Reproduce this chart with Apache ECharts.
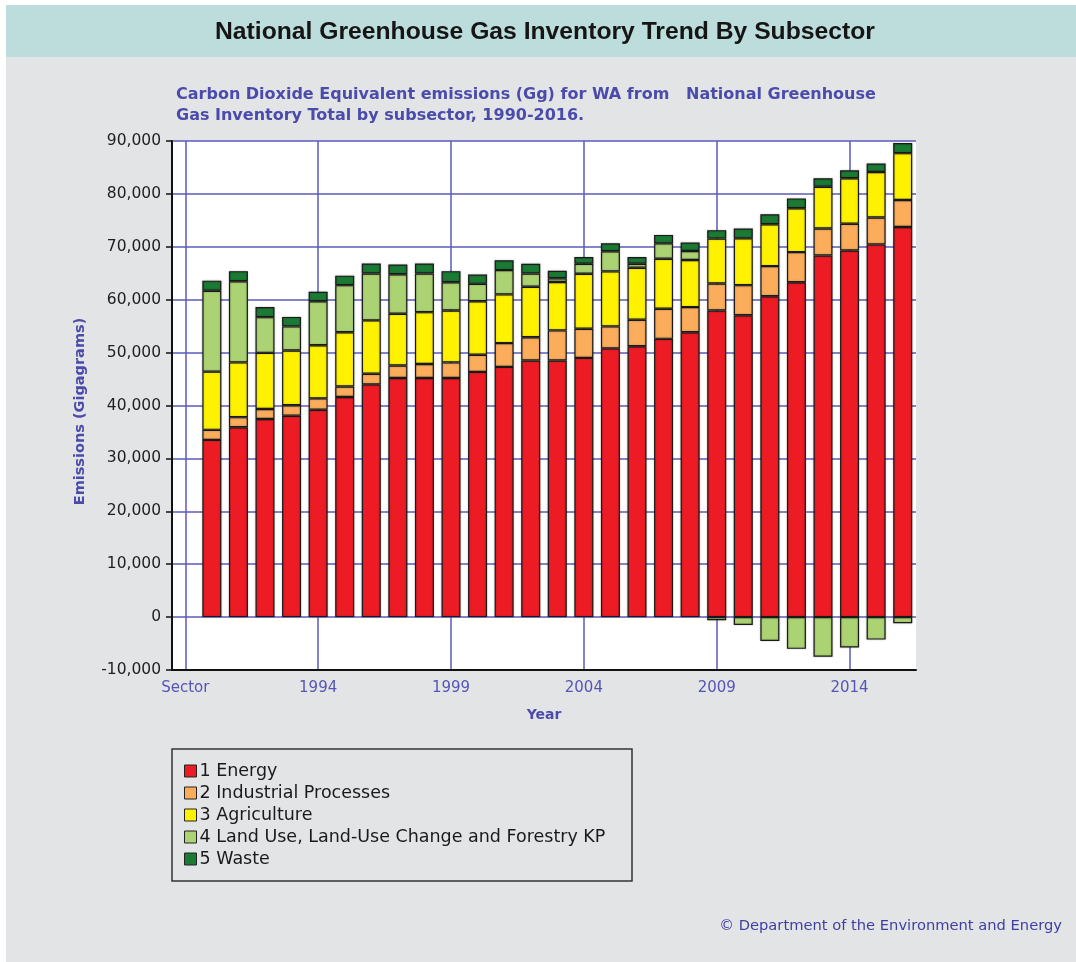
<!DOCTYPE html>
<html>
<head>
<meta charset="utf-8">
<title>National Greenhouse Gas Inventory Trend By Subsector</title>
<script src="https://cdn.jsdelivr.net/npm/echarts@6/dist/echarts.min.js"></script>
<style>
  body { margin: 0; background: #fff; }
  .panel { position: absolute; left: 6px; top: 5px; right: 0; bottom: 0; background: #e3e4e6; }
  .band { position: absolute; left: 6px; top: 5px; right: 0; height: 52px; background: #bddcdc; }
  #chart { position: absolute; left: 0; top: 0; width: 1076px; height: 962px; }
</style>
</head>
<body>
<div class="panel"></div>
<div class="band"></div>
<div id="chart"></div>
<script>
// years on the x axis, first slot is the "Sector" label
var years = ['1990','1991','1992','1993','1994','1995','1996','1997','1998','1999',
    '2000','2001','2002','2003','2004','2005','2006','2007','2008','2009',
    '2010','2011','2012','2013','2014','2015','2016'];
var categories = ['Sector'].concat(years);

// emissions in Gg CO2-e
var energy = [33500, 35900, 37450, 38050, 39200, 41600, 44000, 45200, 45200, 45200,
    46350, 47300, 48500, 48500, 49000, 50800, 51200, 52600, 53850, 57950,
    57050, 60650, 63300, 68350, 69300, 70450, 73750];
var industrial = [1900, 1900, 1900, 2000, 2150, 2000, 2000, 2350, 2650, 2950,
    3250, 4500, 4400, 5700, 5500, 4150, 5000, 5700, 4750, 5100,
    5700, 5700, 5700, 5100, 5050, 5100, 5100];
var agriculture = [11000, 10350, 10600, 10350, 10050, 10250, 10100, 9800, 9800, 9800,
    10100, 9200, 9550, 9150, 10400, 10400, 9850, 9450, 8900, 8500,
    8850, 7900, 8300, 7900, 8600, 8600, 8850];
var landUse = [15300, 15350, 6750, 4550, 8300, 8900, 8850, 7450, 7300, 5350,
    3300, 4600, 2500, 700, 1900, 3800, 750, 2900, 1700, -600,
    -1500, -4500, -6000, -7500, -5750, -4250, -1150];
var waste = [1900, 1900, 1900, 1800, 1800, 1800, 1900, 1850, 1900, 2100,
    1750, 1850, 1850, 1400, 1250, 1500, 1250, 1600, 1600, 1600,
    1850, 1900, 1850, 1600, 1500, 1600, 1900];

var seriesNames = ['1 Energy', '2 Industrial Processes', '3 Agriculture',
    '4 Land Use, Land-Use Change and Forestry KP', '5 Waste'];
var seriesColors = ['#ed1c24', '#fbad5c', '#fff200', '#acd373', '#1b7a34'];
var seriesData = [energy, industrial, agriculture, landUse, waste];

var blue = '#4b4bab';
var gridBlue = '#5b5bbb';

function makeSeries(i) {
    return {
        name: seriesNames[i],
        type: 'bar',
        stack: 'total',
        barWidth: 19,
        data: [null].concat(seriesData[i]),
        itemStyle: {
            color: seriesColors[i],
            borderColor: '#1a1a1a',
            borderWidth: 1.2,
            shadowColor: 'rgba(0,0,0,0.25)',
            shadowBlur: 2
        },
        emphasis: { disabled: true }
    };
}

var myChart = echarts.init(document.getElementById('chart'));
myChart.setOption({
    backgroundColor: 'transparent',
    animation: false,
    title: [
        {
            text: 'National Greenhouse Gas Inventory Trend By Subsector',
            left: 215,
            top: 20,
            padding: 0,
            textStyle: { fontFamily: 'Liberation Sans', fontSize: 24.7, fontWeight: 'bold', color: '#151515' }
        },
        {
            text: 'Carbon Dioxide Equivalent emissions (Gg) for WA from   National Greenhouse\nGas Inventory Total by subsector, 1990-2016.',
            left: 176,
            top: 84,
            padding: 0,
            textStyle: { fontFamily: 'DejaVu Sans', fontSize: 16, fontWeight: 'bold', color: blue, lineHeight: 21 }
        },
        {
            text: '\u00a9 Department of the Environment and Energy',
            right: 14,
            top: 919,
            padding: 0,
            textStyle: { fontFamily: 'DejaVu Sans', fontSize: 14.7, fontWeight: 'normal', color: '#3f3fa3' }
        }
    ],
    legend: {
        orient: 'vertical',
        left: 184,
        top: 762,
        padding: 0,
        itemWidth: 12,
        itemHeight: 12,
        itemGap: 4,
        icon: 'rect',
        itemStyle: { borderColor: '#222', borderWidth: 1 },
        textStyle: { fontFamily: 'DejaVu Sans', fontSize: 17.5, color: '#1a1a1a', padding: [0, 0, 0, -2] },
        data: seriesNames
    },
    graphic: [
        {
            type: 'rect',
            shape: { x: 172, y: 749, width: 460, height: 132 },
            style: { fill: 'none', stroke: '#333', lineWidth: 1.5 }
        }
    ],
    grid: {
        left: 172,
        right: 160,
        top: 141,
        height: 529,
        show: true,
        backgroundColor: '#fff',
        borderWidth: 0
    },
    xAxis: {
        type: 'category',
        data: categories,
        name: 'Year',
        nameLocation: 'middle',
        nameGap: 38,
        nameTextStyle: { fontFamily: 'DejaVu Sans', fontSize: 14, fontWeight: 'bold', color: blue },
        axisLine: { onZero: false, lineStyle: { color: '#111', width: 2 } },
        axisTick: { interval: 4, alignWithLabel: true, length: 6, lineStyle: { color: '#111', width: 1.5 } },
        axisLabel: { interval: 4, fontFamily: 'DejaVu Sans', fontSize: 15, color: '#5555b5', margin: 11 },
        splitLine: { show: true, interval: 4, alignWithLabel: true, lineStyle: { color: gridBlue, width: 1.5 } }
    },
    yAxis: {
        type: 'value',
        min: -10000,
        max: 90000,
        interval: 10000,
        name: 'Emissions (Gigagrams)',
        nameLocation: 'middle',
        nameRotate: 90,
        nameGap: 84,
        nameTextStyle: { fontFamily: 'DejaVu Sans', fontSize: 14.5, fontWeight: 'bold', color: blue, padding: [0, 12, 0, 0] },
        axisLine: { show: true, lineStyle: { color: '#111', width: 2 } },
        axisTick: { show: true, length: 6, lineStyle: { color: '#111', width: 1.5 } },
        axisLabel: {
            fontFamily: 'DejaVu Sans', fontSize: 15.5, color: '#1e1e1e', margin: 11,
            formatter: function (v) { return v.toLocaleString('en-US'); }
        },
        splitLine: { show: true, lineStyle: { color: gridBlue, width: 1.5 } }
    },
    series: [makeSeries(0), makeSeries(1), makeSeries(2), makeSeries(3), makeSeries(4)]
});
</script>
</body>
</html>
